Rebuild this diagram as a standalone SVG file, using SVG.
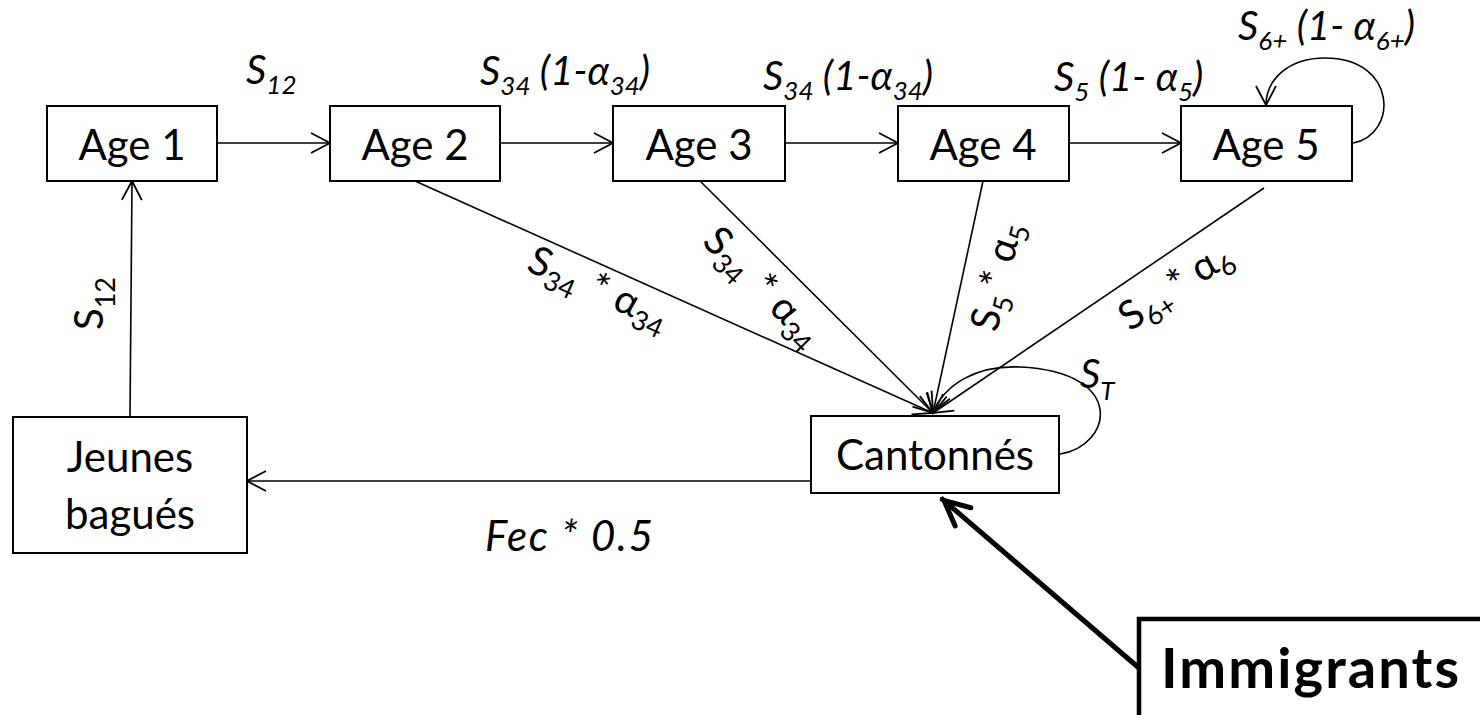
<svg xmlns="http://www.w3.org/2000/svg" width="1480" height="715" viewBox="0 0 1480 715">
<style>
.box{fill:#fff;stroke:#000;stroke-width:2}
.bbox{fill:#fff;stroke:#000;stroke-width:4.5}
.node{font-family:Lato,"Noto Sans",sans-serif;font-size:42px;fill:#000;text-anchor:middle}
.lab{font-family:Lato,"Noto Sans",sans-serif;font-size:40px;font-style:italic;fill:#000}
.rlab{font-family:Lato,"Noto Sans",sans-serif;font-size:40px;fill:#000}
.sub{font-size:26px}
.rsub{font-size:27px}
.ln{fill:none;stroke:#000;stroke-width:1.6}
.thick{fill:none;stroke:#000;stroke-width:5}
</style>
<defs>
<marker id="arr" markerUnits="userSpaceOnUse" markerWidth="40" markerHeight="40" viewBox="-30 -20 40 40" refX="0" refY="0" orient="auto" overflow="visible">
<path d="M-19,-10 L0,0 L-19,10" fill="none" stroke="#000" stroke-width="1.8"/>
</marker>
<marker id="arrB" markerUnits="userSpaceOnUse" markerWidth="60" markerHeight="60" viewBox="-40 -30 60 60" refX="0" refY="0" orient="auto" overflow="visible">
<path d="M-29,-12 L-4,0 L-29,12" fill="none" stroke="#000" stroke-width="5" stroke-linejoin="miter" stroke-linecap="round"/>
</marker>
</defs>

<g id="connectors">
<line class="ln" x1="217" y1="143" x2="330" y2="143" marker-end="url(#arr)"/>
<line class="ln" x1="500" y1="143" x2="613" y2="143" marker-end="url(#arr)"/>
<line class="ln" x1="785" y1="143" x2="898" y2="143" marker-end="url(#arr)"/>
<line class="ln" x1="1069" y1="143" x2="1181" y2="143" marker-end="url(#arr)"/>
<path class="ln" d="M1353,143 C1398,135 1398,58 1325,58 C1288,58 1266,80 1266,105" marker-end="url(#arr)"/>
<line class="ln" x1="415" y1="181" x2="933" y2="413" marker-end="url(#arr)"/>
<line class="ln" x1="700" y1="181" x2="933" y2="413" marker-end="url(#arr)"/>
<line class="ln" x1="983" y1="181" x2="933" y2="413" marker-end="url(#arr)"/>
<line class="ln" x1="1264" y1="188" x2="933" y2="413" marker-end="url(#arr)"/>
<path class="ln" d="M1060,454 C1112,446 1128,372 1020,367 C975,365 945,385 933,412" marker-end="url(#arr)"/>
<line class="ln" x1="811" y1="481" x2="247" y2="481" marker-end="url(#arr)"/>
<line class="ln" x1="130" y1="417" x2="132" y2="181" marker-end="url(#arr)"/>
<line class="thick" x1="1139" y1="668" x2="941" y2="498" marker-end="url(#arrB)"/>

<text class="lab" x="246" y="84">S<tspan class="sub" dy="10">12</tspan></text>
<text class="lab" x="480" y="85">S<tspan class="sub" dy="10">34</tspan><tspan dy="-10"> (1-α</tspan><tspan class="sub" dy="10">34</tspan><tspan dy="-10">)</tspan></text>
<text class="lab" x="763" y="90">S<tspan class="sub" dy="10">34</tspan><tspan dy="-10"> (1-α</tspan><tspan class="sub" dy="10">34</tspan><tspan dy="-10">)</tspan></text>
<text class="lab" x="1054" y="91">S<tspan class="sub" dy="10">5</tspan><tspan dy="-10"> (1- α</tspan><tspan class="sub" dy="10">5</tspan><tspan dy="-10">)</tspan></text>
<text class="lab" x="1238" y="40">S<tspan class="sub" dy="10">6+</tspan><tspan dy="-10"> (1- α</tspan><tspan class="sub" dy="10">6+</tspan><tspan dy="-10">)</tspan></text>
<text class="lab" x="1080" y="388">S<tspan class="sub" dy="12">T</tspan></text>
<text class="lab" x="485" y="551" style="font-size:42px" textLength="168" lengthAdjust="spacing">Fec * 0.5</text>

<text class="rlab" transform="translate(525,270) rotate(24)">S<tspan class="rsub" dy="9">34</tspan><tspan dy="-9" dx="14">* α</tspan><tspan class="rsub" dy="9">34</tspan></text>
<text class="rlab" transform="translate(701,243) rotate(45)">S<tspan class="rsub" dy="9">34</tspan><tspan dy="-9" dx="14">* α</tspan><tspan class="rsub" dy="9">34</tspan></text>
<text class="rlab" transform="translate(997,333) rotate(-77)">S<tspan class="rsub" dy="9">5</tspan><tspan dy="-9" dx="6">* α</tspan><tspan class="rsub" dy="9">5</tspan></text>
<text class="rlab" transform="translate(1130,332) rotate(-34)">S<tspan class="rsub" dy="9">6+</tspan><tspan dy="-9" dx="6">* α</tspan><tspan class="rsub" dy="9">6</tspan></text>
<text class="rlab" transform="translate(103,330) rotate(-90)">S<tspan class="rsub" dy="12">12</tspan></text>
</g>

<g id="age1"><rect class="box" x="47" y="106" width="170" height="75"/><text class="node" x="132" y="160">Age 1</text></g>
<g id="age2"><rect class="box" x="330" y="106" width="170" height="75"/><text class="node" x="415" y="160">Age 2</text></g>
<g id="age3"><rect class="box" x="613" y="106" width="172" height="75"/><text class="node" x="699" y="160">Age 3</text></g>
<g id="age4"><rect class="box" x="898" y="106" width="171" height="75"/><text class="node" x="983" y="160">Age 4</text></g>
<g id="age5"><rect class="box" x="1181" y="106" width="171" height="75"/><text class="node" x="1266" y="160">Age 5</text></g>
<g id="cantonnes"><rect class="box" x="811" y="416" width="248" height="77"/><text class="node" x="935" y="470">Cantonnés</text></g>
<g id="jeunes"><rect class="box" x="13" y="417" width="234" height="136"/><text class="node" x="130" y="472">Jeunes</text><text class="node" x="130" y="529">bagués</text></g>
<g id="immigrants"><rect class="bbox" x="1139" y="619" width="360" height="120"/><text x="1161" y="688" textLength="298" lengthAdjust="spacing" style="font-family:Lato,'Noto Sans',sans-serif;font-size:56px;font-weight:bold;fill:#000">Immigrants</text></g>
</svg>
